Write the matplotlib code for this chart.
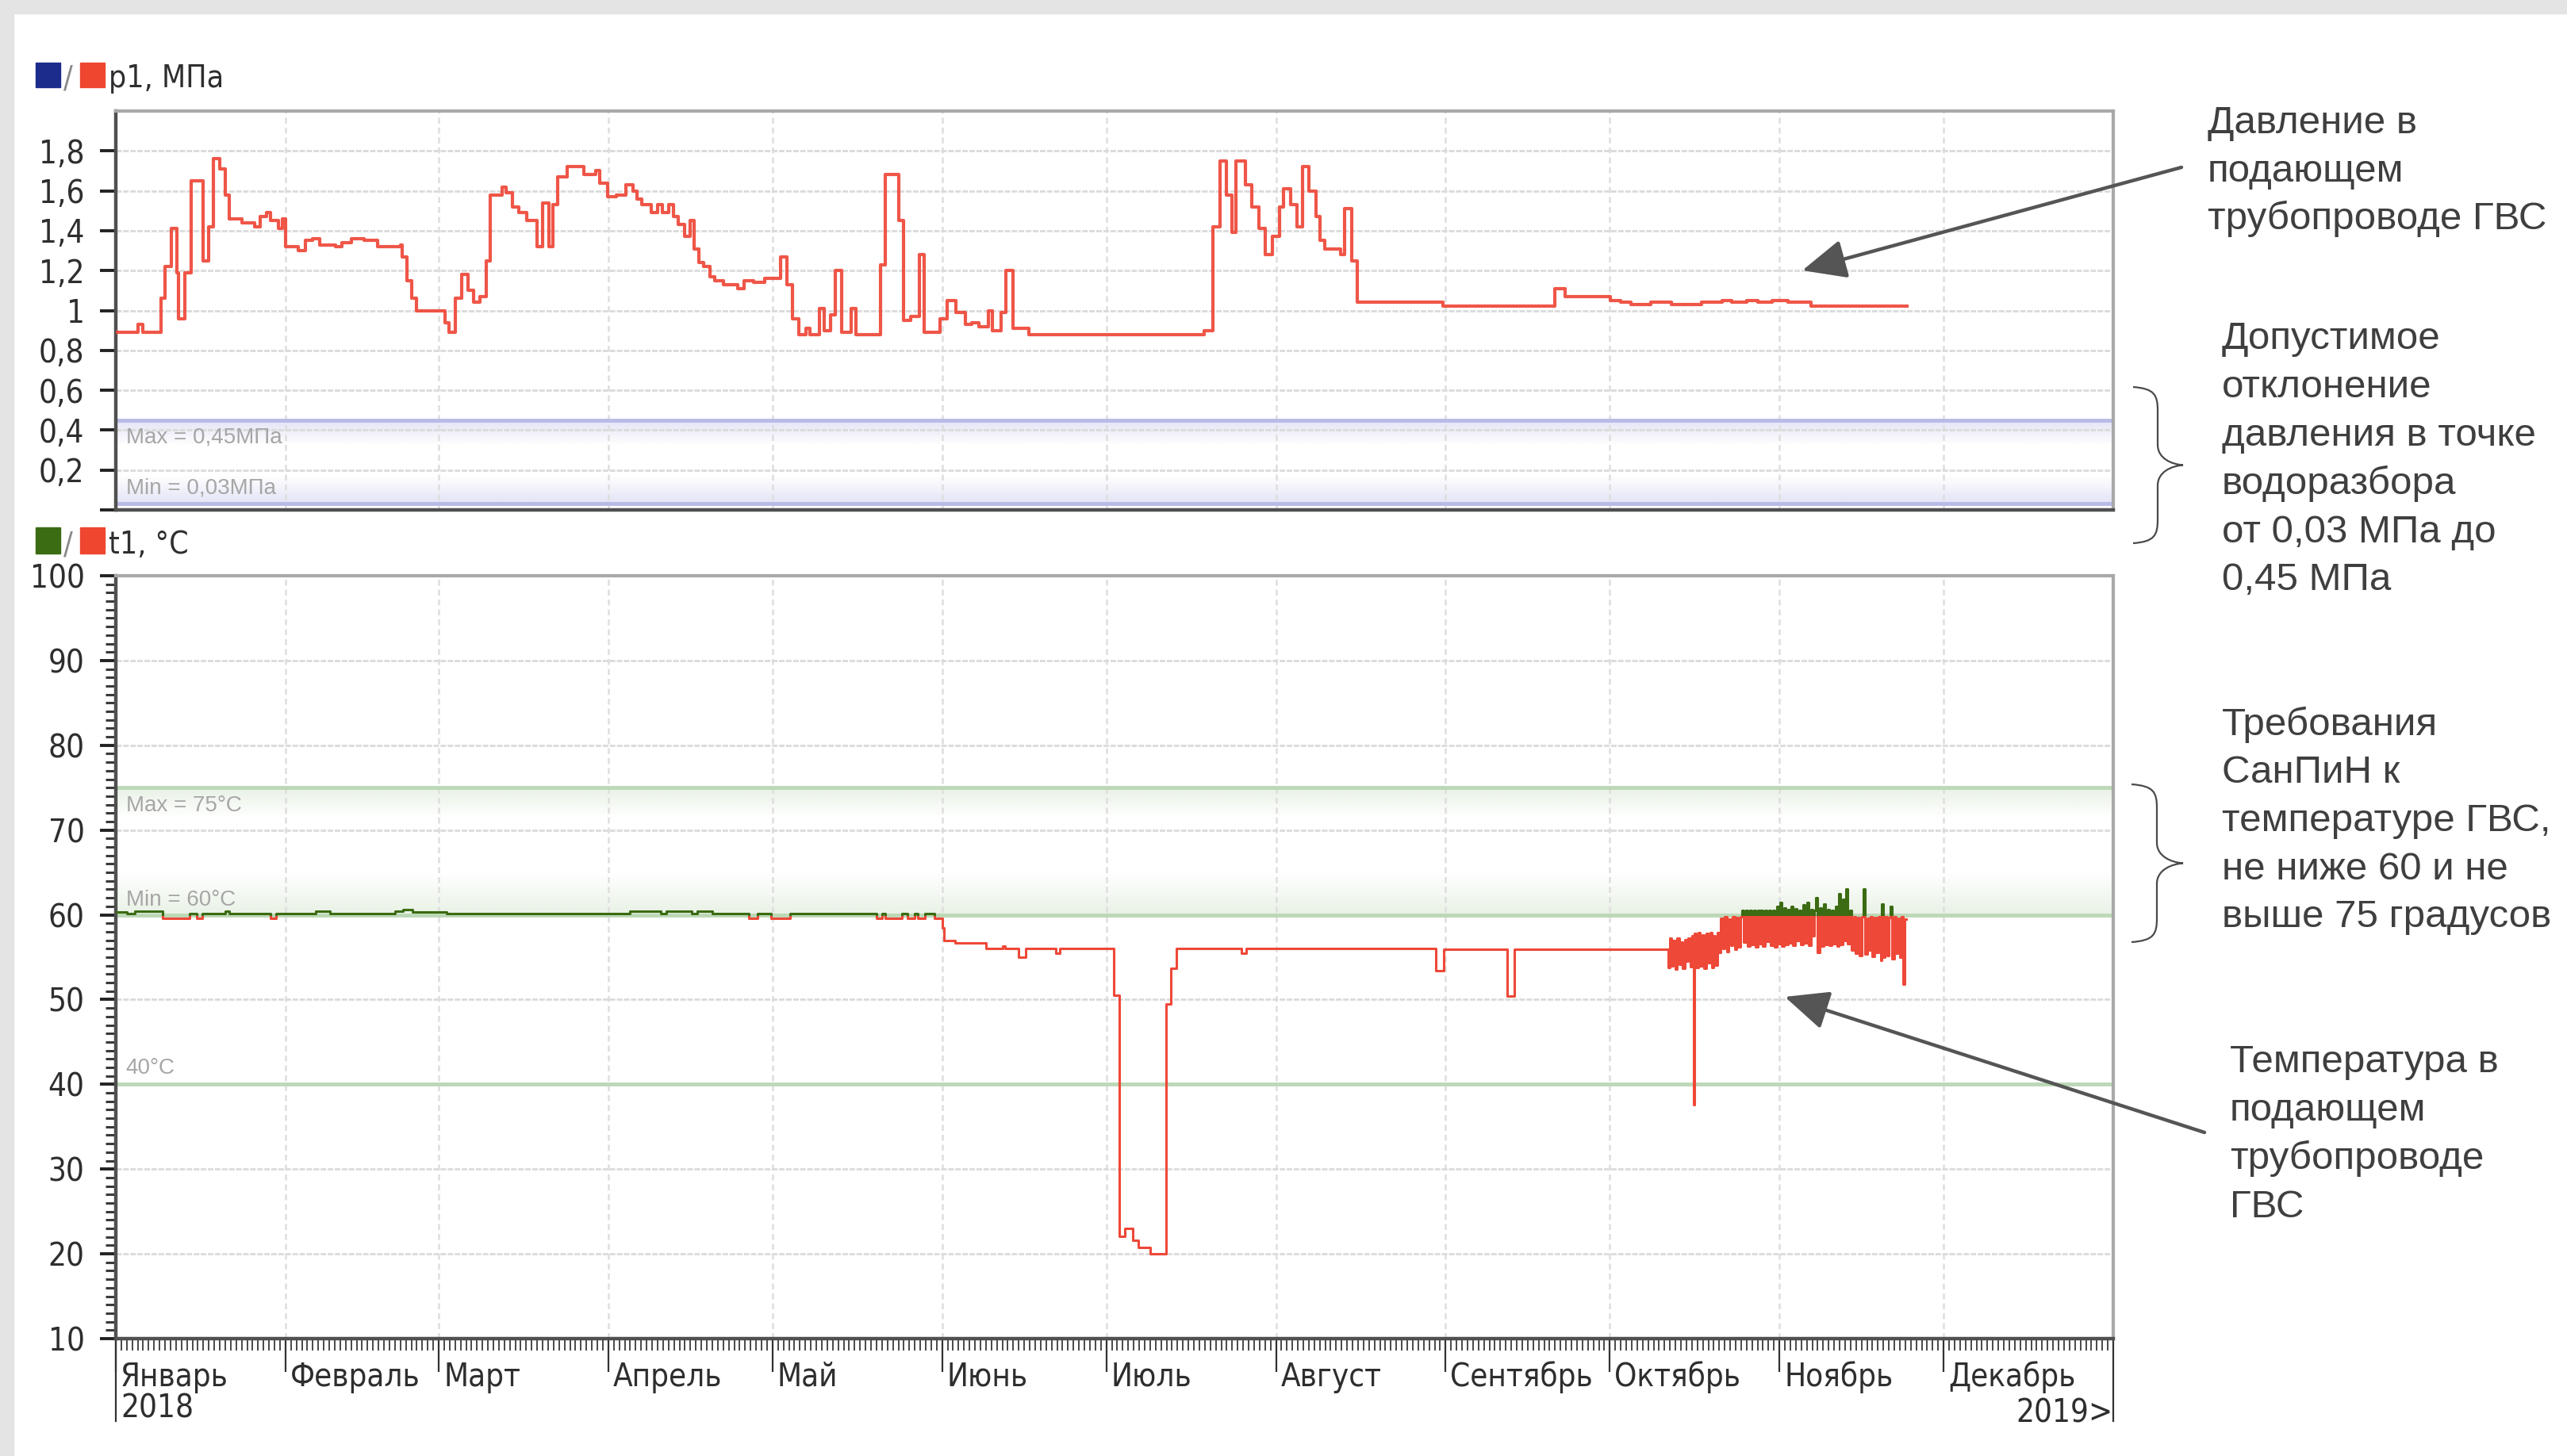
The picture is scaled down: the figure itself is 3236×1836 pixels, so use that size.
import numpy as np
import matplotlib
matplotlib.use('Agg')
import matplotlib.pyplot as plt
import matplotlib.dates as mdates
import matplotlib.transforms as mtransforms
from matplotlib import font_manager
from matplotlib.font_manager import FontProperties
from matplotlib.patches import Rectangle, PathPatch, FancyArrowPatch
from matplotlib.path import Path
from datetime import datetime

# ---------------- data ----------------
year_start = datetime(2018, 1, 1)
year_end = datetime(2019, 1, 1)

month_labels = ['Январь\n2018', 'Февраль', 'Март', 'Апрель', 'Май', 'Июнь',
                'Июль', 'Август', 'Сентябрь', 'Октябрь', 'Ноябрь', 'Декабрь']
month_dates = [datetime(2018, m, 1) for m in range(1, 13)]
end_label = '2019>'

p_ticks = [0, 0.2, 0.4, 0.6, 0.8, 1.0, 1.2, 1.4, 1.6, 1.8]
p_ticklabels = ['', '0,2', '0,4', '0,6', '0,8', '1', '1,2', '1,4', '1,6', '1,8']
t_ticks = [10, 20, 30, 40, 50, 60, 70, 80, 90, 100]
t_ticklabels = ['10', '20', '30', '40', '50', '60', '70', '80', '90', '100']

p_max, p_min = 0.45, 0.03
t_max, t_min, t_low = 75, 60, 40
p_max_label, p_min_label = 'Max = 0,45МПа', 'Min = 0,03МПа'
t_max_label, t_min_label, t_low_label = 'Max = 75°C', 'Min = 60°C', '40°C'

# pressure p1 (day of year, MPa) - step series
p_days = [0, 4.0, 5.0, 8.2, 9.0, 10.2, 11.2, 11.5, 12.6, 13.8, 16.0, 17.0, 17.8, 19.0,
          20.0, 20.8, 23.0, 25.3, 26.4, 27.5, 28.3, 29.7, 30.5, 31.0, 33.4, 34.6, 36.0,
          37.2, 40.2, 41.3, 43.1, 45.4, 47.9, 52.0, 52.4, 53.2, 54.1, 55.0, 60.2, 60.9,
          62.1, 63.2, 64.3, 65.4, 66.5, 67.7, 68.4, 70.6, 71.3, 72.5, 73.6, 75.1, 76.9,
          78.0, 79.2, 79.9, 80.7, 82.5, 85.5, 87.7, 88.4, 89.9, 91.4, 93.2, 94.5, 95.3,
          96.1, 97.8, 99.0, 99.9, 101.1, 101.9, 102.8, 104.0, 104.9, 105.7, 106.5, 107.4,
          108.6, 109.4, 111.1, 113.6, 114.8, 116.5, 118.6, 121.5, 122.7, 123.6, 124.8,
          126.1, 126.9, 128.6, 129.4, 130.6, 131.5, 132.7, 134.4, 135.2, 139.8, 140.6,
          143.1, 144.0, 145.2, 146.9, 147.7, 150.6, 151.9, 153.5, 155.2, 156.4, 157.7,
          159.4, 160.2, 161.8, 162.7, 163.9, 166.8, 198.9, 200.5, 201.8, 203.0, 203.9,
          204.7, 206.4, 207.6, 208.9, 210.1, 211.3, 212.6, 213.4, 214.7, 215.9, 216.8,
          218.0, 219.3, 220.1, 220.9, 223.8, 224.5, 225.9, 226.8, 242.5, 262.9, 264.8,
          273.1, 275.0, 276.8, 280.5, 284.2, 289.8, 293.5, 295.3, 298.1, 300.0, 302.7,
          305.5, 309.7, 327.3]
p_vals = [0.89, 0.93, 0.89, 1.06, 1.22, 1.41, 1.19, 0.96, 1.19, 1.65, 1.25, 1.42, 1.76, 1.71,
          1.58, 1.46, 1.44, 1.42, 1.47, 1.49, 1.45, 1.41, 1.46, 1.32, 1.30, 1.35, 1.36,
          1.33, 1.32, 1.34, 1.36, 1.35, 1.32, 1.33, 1.27, 1.15, 1.06, 1.00, 0.94, 0.89,
          1.06, 1.18, 1.10, 1.04, 1.07, 1.25, 1.58, 1.62, 1.59, 1.52, 1.49, 1.45, 1.32,
          1.54, 1.32, 1.53, 1.67, 1.72, 1.68, 1.70, 1.64, 1.57, 1.58, 1.63, 1.60, 1.56,
          1.53, 1.49, 1.53, 1.49, 1.53, 1.47, 1.43, 1.37, 1.45, 1.31, 1.24, 1.22,
          1.17, 1.15, 1.13, 1.11, 1.15, 1.14, 1.16, 1.27, 1.13, 0.96, 0.88,
          0.91, 0.88, 1.01, 0.90, 0.98, 1.20, 0.89, 1.01, 0.88, 1.23, 1.68,
          1.45, 0.95, 0.97, 1.28, 0.89, 0.96, 1.05, 0.99, 0.93, 0.94, 0.92,
          1.00, 0.90, 0.99, 1.20, 0.91, 0.88, 0.90, 1.42, 1.75, 1.58, 1.39,
          1.75, 1.63, 1.52, 1.41, 1.28, 1.37, 1.52, 1.61, 1.53, 1.42, 1.72,
          1.60, 1.47, 1.35, 1.31, 1.28, 1.51, 1.25, 1.04, 1.02, 1.11, 1.07,
          1.05, 1.04, 1.03, 1.04, 1.03, 1.04, 1.05, 1.04, 1.05, 1.04, 1.05,
          1.04, 1.02, 1.02]

# temperature t1 (day of year, °C) - step series
t_days = [0, 2.0, 3.5, 8.6, 13.5, 14.8, 15.8, 20.0, 20.8, 28.3, 29.3, 36.5, 39.2, 51.0,
          52.5, 54.2, 60.5, 94.0, 99.6, 100.6, 105.2, 106.2, 109.0, 115.7, 117.3, 119.8,
          123.2, 139.0, 140.0, 140.6, 143.7, 144.7, 146.0, 146.5, 147.8, 149.6, 151.0,
          151.4, 153.4, 159.0, 162.0, 162.5, 165.0, 166.2, 171.8, 172.5, 182.4, 183.4,
          184.4, 185.8, 186.8, 189.0, 191.9, 192.8, 193.8, 205.7, 206.6, 241.2, 242.7,
          254.2, 255.5,
          283.7, 284.0, 284.3, 284.6, 285.0, 285.3, 285.7, 286.0, 286.3, 286.7, 287.0,
          287.3, 287.7, 288.0, 288.3, 288.5, 288.8, 289.2, 289.5, 289.9, 290.2, 290.6,
          290.9, 291.3, 291.6, 292.0, 292.3, 292.7,
          293.0, 293.3, 293.7, 294.0, 294.4, 294.7, 295.1, 295.4, 295.8, 296.1, 296.5, 296.8,
          297.2, 297.5, 297.9, 298.2, 298.6, 298.9, 299.3, 299.6, 300.0, 300.3, 300.7,
          301.0, 301.4, 301.7, 302.1, 302.4, 302.8, 303.1, 303.5, 303.8, 304.1, 304.4,
          304.8, 305.1, 305.5, 305.8, 306.2, 306.5, 306.9, 307.2, 307.6, 307.9, 308.3,
          308.6, 309.0, 309.3, 309.7, 310.0, 310.4, 310.7, 311.0, 311.4, 311.7, 312.1,
          312.4, 312.8, 313.1, 313.5, 313.8, 314.2, 314.5, 314.9, 315.2, 315.6, 315.9,
          316.2, 316.5, 316.9, 317.2,
          317.6, 317.9, 318.3, 318.6, 319.0, 319.4, 319.6, 320.0, 320.3, 320.7, 321.0,
          321.4, 321.7, 322.1,
          322.5, 322.7, 323.0, 323.3, 323.7, 324.0, 324.3, 324.6, 325.0, 325.3, 325.7,
          326.0, 326.3, 326.6, 326.9, 327.2]
t_vals = [60.3, 60.1, 60.4, 59.6, 60.1, 59.6, 60.1, 60.4, 60.1, 59.6, 60.1, 60.4, 60.1, 60.4,
          60.6, 60.3, 60.1, 60.4, 60.1, 60.4, 60.1, 60.4, 60.1, 59.6, 60.1, 59.6,
          60.1, 59.6, 60.1, 59.6, 60.1, 59.6, 60.1, 59.6, 60.1, 59.6, 58.5,
          57.0, 56.7, 56.0, 56.3, 56.0, 55.0, 56.0, 55.5, 56.0, 50.5, 22.1,
          23.0, 21.6, 20.8, 20.0, 49.5, 53.7, 56.0, 55.5, 56.0, 53.4, 55.9,
          50.4, 55.9,
          53.8, 57.2, 54.0, 57.0, 53.6, 57.2, 54.2, 56.8, 53.7, 57.1, 54.5,
          57.2, 53.9, 57.5, 37.6, 57.8, 53.8, 57.9, 54.0, 57.6, 53.7, 57.8,
          54.3, 57.9, 53.8, 57.5, 54.1, 57.9,
          55.6, 59.6, 56.0, 59.8, 55.7, 59.5, 56.4, 59.8, 55.9, 59.7, 56.2, 59.8,
          60.5, 56.8, 60.5, 56.3, 60.5, 56.5, 60.5, 56.2, 60.5, 56.6, 60.5,
          56.3, 60.5, 56.9, 60.5, 56.4, 60.5, 56.2, 61.0, 56.6, 61.5, 56.3,
          60.8, 56.5, 60.6, 56.7, 61.0, 56.4, 60.7, 57.0, 60.5, 56.5, 61.2,
          56.7, 61.5, 56.4, 60.6, 57.5, 60.5, 62.0, 55.6, 60.8, 56.3, 61.3,
          56.5, 60.6, 56.4, 60.5, 56.6, 61.0, 56.3, 62.5, 56.5, 61.8, 57.0,
          63.0, 56.6, 60.5, 55.8,
          59.8, 55.5, 59.7, 55.2, 59.8, 63.0, 55.4, 59.6, 55.8, 59.8, 55.1,
          59.7, 55.6, 59.8,
          54.6, 61.3, 55.0, 59.8, 55.2, 59.7, 61.0, 54.8, 59.8, 55.5, 59.6,
          55.0, 59.8, 51.8, 59.5, 59.5]

# ---------------- styling ----------------
W, H, DPI = 3237, 1836, 100
RED = '#EE4838'
GREEN = '#3B6B12'
BLUE = '#1C2C8C'
TXT = '#2E2E2E'
ANN = '#3F3F3F'

names = {f.name for f in font_manager.fontManager.ttflist}
if 'Liberation Sans Narrow' in names:
    NARROW = dict(family='Liberation Sans Narrow'); nscale = 1.0
elif any(f.name == 'DejaVu Sans' and 'condensed' in str(f.stretch) for f in font_manager.fontManager.ttflist):
    NARROW = dict(family='DejaVu Sans', stretch='condensed'); nscale = 0.85
else:
    NARROW = dict(family='Liberation Sans'); nscale = 0.88
REG = 'Liberation Sans' if 'Liberation Sans' in names else 'DejaVu Sans'

fp_tick = FontProperties(size=34 * nscale, **NARROW)
fp_leg = FontProperties(size=33 * nscale, **NARROW)

fig = plt.figure(figsize=(W / DPI, H / DPI), dpi=DPI)
fig.patch.set_facecolor('white')

def fx(px):
    return px / W

def fy(py):
    return 1 - py / H

# light grey border strips of the screenshot
fig.patches.append(Rectangle((0, fy(17)), 1, 17 / H, transform=fig.transFigure,
                             color='#E4E4E4', zorder=-5))
fig.patches.append(Rectangle((0, 0), 17 / W, 1, transform=fig.transFigure,
                             color='#E4E4E4', zorder=-5))

L, R = 146, 2664
ax1 = fig.add_axes([fx(L), fy(643), (R - L) / W, (643 - 140) / H])
ax2 = fig.add_axes([fx(L), fy(1688), (R - L) / W, (1688 - 726) / H])

x0 = mdates.date2num(year_start)
x1 = mdates.date2num(year_end)
mx = mdates.date2num(month_dates)

px = x0 + np.array(p_days)
tx = x0 + np.array(t_days)


def vgrad(ax, ya, yb, rgb, alpha_fn):
    ys = np.linspace(ya, yb, 200)
    arr = np.zeros((len(ys), 1, 4))
    arr[:, 0, 0], arr[:, 0, 1], arr[:, 0, 2] = rgb
    arr[:, 0, 3] = alpha_fn(ys)
    ax.imshow(arr, extent=[x0, x1, ya, yb], origin='lower', aspect='auto',
              interpolation='bilinear', zorder=0.4)


for ax in (ax1, ax2):
    ax.set_facecolor('white')
    ax.set_xlim(x0, x1)
    for s in ('top', 'right'):
        ax.spines[s].set_color('#A9A9A9')
        ax.spines[s].set_linewidth(3)
    for s in ('left', 'bottom'):
        ax.spines[s].set_color('#505050')
        ax.spines[s].set_linewidth(3.2)
    # month grid lines
    for m in mx[1:]:
        ax.axvline(m, color='#DEDEDE', lw=1.8, ls=(0, (3, 2)), zorder=0.6)

# ---------- top panel: pressure ----------
lav = (0.80, 0.80, 0.94)
vgrad(ax1, p_min, p_max, lav,
      lambda y: np.clip((y - 0.32) / 0.13, 0, 1) * 0.55 + np.clip((0.17 - y) / 0.14, 0, 1) * 0.55)
for yv in p_ticks[1:]:
    ax1.axhline(yv, color='#DADADA', lw=2.0, ls=(0, (2.5, 0.7)), zorder=0.6)
ax1.axhline(p_max, color='#B8BBE6', lw=3.5, zorder=1)
ax1.axhline(p_min, color='#B8BBE6', lw=3.5, zorder=1)
ax1.step(px, p_vals, where='post', color=RED, lw=3.0, zorder=3, alpha=0.92)
ax1.set_ylim(0, 2.0)
ax1.set_yticks(p_ticks, p_ticklabels, fontproperties=fp_tick, color=TXT)
ax1.tick_params(axis='y', length=14.4, width=2.8, color='#222222', pad=14)
ax1.set_xticks([])
ax1.text(0.005, 0.363, p_max_label, transform=ax1.get_yaxis_transform(), va='center',
         ha='left', fontsize=20, family=REG, color='#A6A6A6', zorder=2)
ax1.text(0.005, 0.11, p_min_label, transform=ax1.get_yaxis_transform(), va='center',
         ha='left', fontsize=20, family=REG, color='#A6A6A6', zorder=2)

# ---------- bottom panel: temperature ----------
grn = (0.80, 0.89, 0.78)
vgrad(ax2, t_min, t_max, grn,
      lambda y: np.clip((y - 71.5) / 3.5, 0, 1) * 0.45 + np.clip((65.0 - y) / 5.0, 0, 1) * 0.45)
for yv in t_ticks:
    if yv in (t_min, t_low, 10, 100):
        continue
    ax2.axhline(yv, color='#DADADA', lw=2.0, ls=(0, (2.5, 0.7)), zorder=0.6)
for yv in (t_max, t_min, t_low):
    ax2.axhline(yv, color='#BCD8B6', lw=3.5, zorder=1)

thr = 59.85
red_line, = ax2.step(tx, t_vals, where='post', color=RED, lw=2.2, zorder=3)
red_line.set_clip_path(Rectangle((x0, 0), x1 - x0, thr, transform=ax2.transData))
grn_line, = ax2.step(tx, t_vals, where='post', color=GREEN, lw=2.2, zorder=3.1)
grn_line.set_clip_path(Rectangle((x0, thr), x1 - x0, 60, transform=ax2.transData))

ax2.set_ylim(10, 100)
ax2.set_yticks(t_ticks, t_ticklabels, fontproperties=fp_tick, color=TXT)
ax2.set_yticks(np.arange(11, 100, 1), minor=True)
ax2.tick_params(axis='y', which='major', length=14.4, width=2.8, color='#222222', pad=14)
ax2.tick_params(axis='y', which='minor', length=9.4, width=2.2, color='#3A3A3A')

ax2.text(0.005, 72.9, t_max_label, transform=ax2.get_yaxis_transform(), va='center',
         ha='left', fontsize=20, family=REG, color='#A6A6A6', zorder=2)
ax2.text(0.005, 61.7, t_min_label, transform=ax2.get_yaxis_transform(), va='center',
         ha='left', fontsize=20, family=REG, color='#A6A6A6', zorder=2)
ax2.text(0.005, 41.9, t_low_label, transform=ax2.get_yaxis_transform(), va='center',
         ha='left', fontsize=20, family=REG, color='#A6A6A6', zorder=2)

# x axis: months
ax2.set_xticks(mx, month_labels, fontproperties=fp_tick, color=TXT, ha='left',
               va='top', multialignment='left', linespacing=1.0)
ax2.xaxis.set_minor_locator(mdates.DayLocator())
ax2.tick_params(axis='x', which='major', length=30, width=1.6, color='#333333', pad=-9.4)
ax2.tick_params(axis='x', which='minor', length=11, width=1.3, color='#3A3A3A')
offs = mtransforms.ScaledTranslation(6 / DPI, 0, fig.dpi_scale_trans)
for lbl in ax2.get_xticklabels():
    lbl.set_transform(lbl.get_transform() + offs)
for xe in (x0, x1):
    ax2.axvline(xe, ymin=-(1792 - 1688) / (1688 - 726), ymax=0, clip_on=False,
                color='#333333', lw=1.6)
ax2.text(x1, -(1782 - 1688) / (1688 - 726), end_label, transform=ax2.get_xaxis_transform(),
         ha='right', va='center', fontproperties=fp_tick, color=TXT)

# ---------- legends (squares + names) ----------
def legend_block(y_top, y_bot, c1, name):
    fig.patches.append(Rectangle((fx(45), fy(y_bot)), 31 / W, (y_bot - y_top) / H,
                                 transform=fig.transFigure, color=c1))
    fig.text(fx(80), fy(y_bot), '/', fontproperties=fp_leg, color='#8A8A8A', va='baseline')
    fig.patches.append(Rectangle((fx(101), fy(y_bot)), 31 / W, (y_bot - y_top) / H,
                                 transform=fig.transFigure, color='#EF4630'))
    fig.text(fx(137), fy(y_bot), name, fontproperties=fp_leg, color=TXT, va='baseline')

legend_block(79, 110, BLUE, 'p1, МПа')
legend_block(665, 698, GREEN, 't1, °C')

# ---------- right-hand annotations ----------
ann_fs = 35.5
blocks = [
    (2783, [168, 229, 289], ['Давление в', 'подающем', 'трубопроводе ГВС']),
    (2801, [440, 501, 562, 623, 684, 744],
     ['Допустимое', 'отклонение', 'давления в точке', 'водоразбора',
      'от 0,03 МПа до', '0,45 МПа']),
    (2801, [927, 987, 1048, 1109, 1169],
     ['Требования', 'СанПиН к', 'температуре ГВС,', 'не ниже 60 и не',
      'выше 75 градусов']),
    (2811, [1352, 1413, 1474, 1535],
     ['Температура в', 'подающем', 'трубопроводе', 'ГВС']),
]
for xb, ys, lines in blocks:
    for yb, s in zip(ys, lines):
        fig.text(fx(xb), fy(yb), s, fontsize=ann_fs, family=REG, color=ANN,
                 va='baseline', ha='left')


def brace(x_end, x_mid, x_tip, y_top, y_bot):
    ym = (y_top + y_bot) / 2
    pts = [(x_end, y_top),
           (x_mid - 4, y_top + 2), (x_mid, y_top + 10), (x_mid, y_top + 30),
           (x_mid, ym - 26),
           (x_mid, ym - 8), (x_tip - 14, ym - 1), (x_tip, ym),
           (x_tip - 14, ym + 1), (x_mid, ym + 8), (x_mid, ym + 26),
           (x_mid, y_bot - 30),
           (x_mid, y_bot - 10), (x_mid - 4, y_bot - 2), (x_end, y_bot)]
    codes = [Path.MOVETO, Path.CURVE4, Path.CURVE4, Path.CURVE4, Path.LINETO,
             Path.CURVE4, Path.CURVE4, Path.CURVE4, Path.CURVE4, Path.CURVE4, Path.CURVE4,
             Path.LINETO, Path.CURVE4, Path.CURVE4, Path.CURVE4]
    verts = [(fx(a), fy(b)) for a, b in pts]
    fig.patches.append(PathPatch(Path(verts, codes), transform=fig.transFigure,
                                 fill=False, edgecolor='#4A4A4A', lw=1.6))

brace(2689, 2720, 2752, 488, 685)
brace(2687, 2719, 2752, 989, 1188)

for (sx, sy), (ex, ey) in [((2750, 211), (2272, 341)), ((2779, 1428), (2250, 1257))]:
    fig.patches.append(FancyArrowPatch((fx(sx), fy(sy)), (fx(ex), fy(ey)),
                                       transform=fig.transFigure,
                                       arrowstyle='-|>,head_length=0.85,head_width=0.38',
                                       mutation_scale=40, lw=3.2, color='#555555',
                                       shrinkA=0, shrinkB=0))

fig.savefig('out.png', dpi=DPI, facecolor='white')
